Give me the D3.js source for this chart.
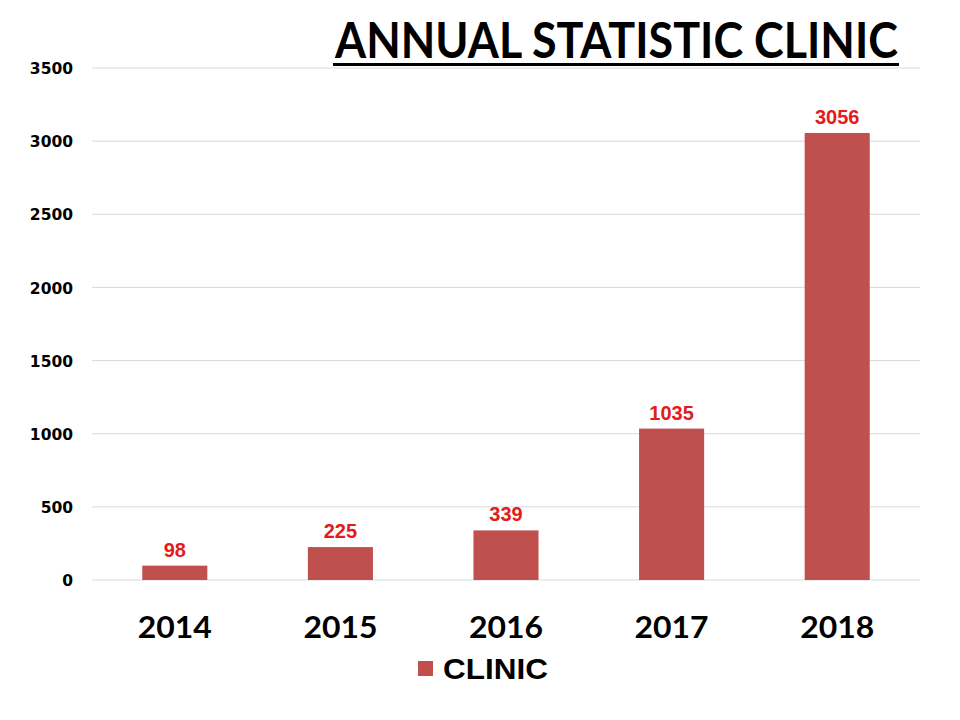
<!DOCTYPE html>
<html><head><meta charset="utf-8">
<script src="https://cdn.jsdelivr.net/npm/d3@7"></script>
<style>body{margin:0;background:#fff}</style>
</head><body>
<svg id="c" width="960" height="720"></svg>
<script>
const categories = ["2014","2015","2016","2017","2018"];
const values = [98, 225, 339, 1035, 3056];
const yTicks = [0,500,1000,1500,2000,2500,3000,3500];
const seriesName = "CLINIC";
const titleText = "ANNUAL STATISTIC CLINIC";

const svg = d3.select("#c");
const pL = 92, pR = 920, pT = 68, pB = 580;
const x = d3.scaleBand().domain(categories).range([pL, pR]).padding(0);
const y = d3.scaleLinear().domain([0, 3500]).range([pB, pT]);
const barW = x.bandwidth() * 0.393;
const barColor = "#C0504D";

// grid
svg.append("g").selectAll("line").data(yTicks).join("line")
  .attr("x1", pL).attr("x2", pR)
  .attr("y1", d => y(d)).attr("y2", d => y(d))
  .attr("stroke", "#d9d9d9").attr("stroke-width", 1);

// y axis labels
const yAxis = d3.axisLeft(y).tickValues(yTicks).tickFormat(d3.format("d")).tickSize(0).tickPadding(0);
const ya = svg.append("g").attr("transform", `translate(73,0)`).call(yAxis);
ya.select(".domain").remove();
ya.selectAll("text").attr("font-family","'DejaVu Sans', Verdana, sans-serif")
  .attr("font-weight","bold").attr("font-size", 15.5).attr("fill","#000").attr("dy","0.36em");

// bars
svg.append("g").selectAll("rect").data(values).join("rect")
  .attr("x", (d,i) => x(categories[i]) + x.bandwidth()/2 - barW/2)
  .attr("width", barW)
  .attr("y", d => y(d))
  .attr("height", d => y(0) - y(d))
  .attr("fill", barColor);

// data labels
svg.append("g").selectAll("text").data(values).join("text")
  .attr("x", (d,i) => x(categories[i]) + x.bandwidth()/2)
  .attr("y", d => y(d) - 9)
  .attr("text-anchor","middle")
  .attr("font-family","Arial, 'Liberation Sans', sans-serif")
  .attr("font-weight","bold").attr("font-size", 20)
  .attr("fill","#E31B1B")
  .text(d => d);

// x axis labels
const xAxis = d3.axisBottom(x).tickSize(0).tickPadding(0);
const xa = svg.append("g").attr("transform", `translate(0,638)`).call(xAxis);
xa.select(".domain").remove();
xa.selectAll("text").attr("font-family","Lato, 'Open Sans', sans-serif")
  .attr("font-weight","bold").attr("font-size", 30).attr("fill","#000").attr("dy", 0)
  .attr("textLength", 74).attr("lengthAdjust","spacingAndGlyphs");

// legend
svg.append("rect").attr("x", 418).attr("y", 661).attr("width", 15).attr("height", 15).attr("fill", barColor);
svg.append("text").attr("x", 443).attr("y", 679)
  .attr("font-family","Arial, 'Liberation Sans', sans-serif")
  .attr("font-weight","bold").attr("font-size", 30).attr("fill","#000")
  .attr("textLength", 105).attr("lengthAdjust","spacingAndGlyphs")
  .text(seriesName);

// title (scaled horizontally to fit the reference width)
const tg = svg.append("g");
const tt = tg.append("text").attr("x", 0).attr("y", 0)
  .attr("font-family","Lato, 'Open Sans', sans-serif")
  .attr("font-weight","bold").attr("font-size", 49).attr("fill","#000")
  .text(titleText);
const natW = tt.node().getComputedTextLength();
tg.attr("transform", `translate(335,58) scale(${563/natW},1)`);
svg.append("rect").attr("x", 333).attr("y", 63).attr("width", 566).attr("height", 3).attr("fill","#000");
</script>
</body></html>
